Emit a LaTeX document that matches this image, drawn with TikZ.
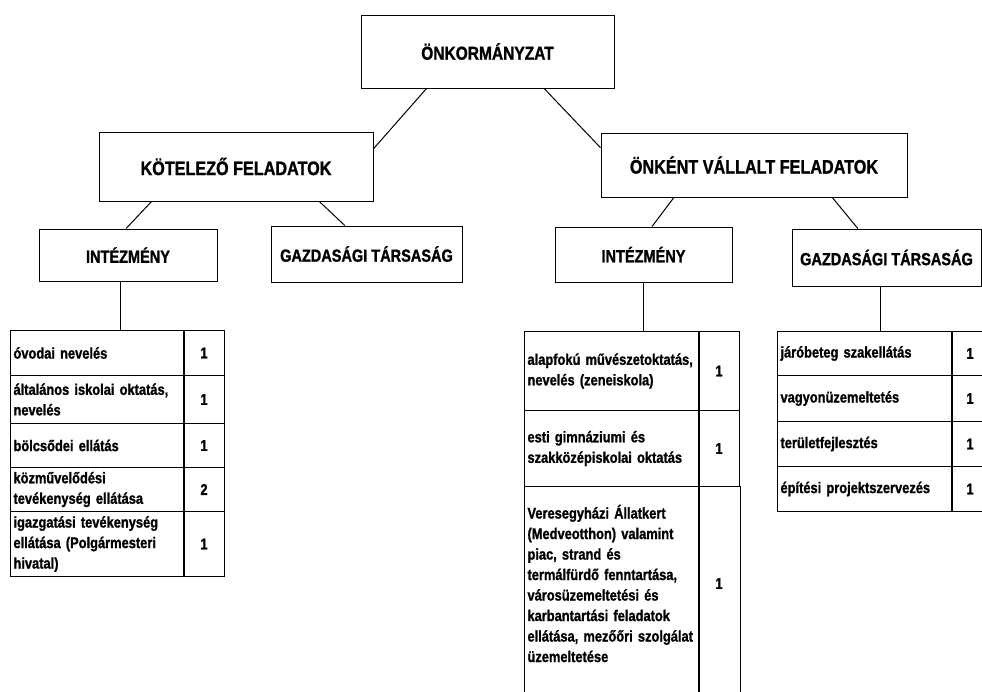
\documentclass[tikz,border=0pt]{standalone}
\usepackage{fontspec}
\setmainfont{Liberation Sans}[FakeStretch=0.83, BoldFeatures={FakeStretch=0.83, FakeBold=1.2}]
\usetikzlibrary{calc}
\begin{document}
\begin{tikzpicture}[x=1pt,y=-1pt,
  hbox/.style={draw=black, line width=1pt, inner sep=0pt, font=\bfseries\fontsize{17.5}{20}\selectfont},
  bigfont/.style={font=\bfseries\fontsize{19.5}{22}\selectfont},
  link/.style={draw=black, line width=1pt},
  cell/.style={draw=black, line width=1pt, anchor=north west, inner xsep=3pt, inner ysep=0pt, align=left, font=\bfseries\fontsize{15.5}{20.5}\selectfont},
  num/.style={draw=black, line width=1pt, anchor=north west, inner sep=0pt, font=\bfseries\fontsize{15.5}{20.5}\selectfont},
  sep/.style={draw=black, line width=2pt}]
\useasboundingbox (0,0) rectangle (982,691);
\clip (0,0) rectangle (982,691);

% header boxes
\node[hbox, font=\bfseries\fontsize{18.7}{21}\selectfont, minimum width=253pt, minimum height=73pt] (top) at (487.5,51.5) {ÖNKORMÁNYZAT};
\node[hbox, bigfont, minimum width=274pt, minimum height=69pt] (kot) at (236,166.5) {KÖTELEZŐ FELADATOK};
\node[hbox, bigfont, minimum width=306pt, minimum height=64pt] (onk) at (754,165) {ÖNKÉNT VÁLLALT FELADATOK};
\node[hbox, minimum width=178pt, minimum height=52pt] (intL) at (128,255) {INTÉZMÉNY};
\node[hbox, minimum width=191pt, minimum height=56pt] (gazL) at (366.5,254) {GAZDASÁGI TÁRSASÁG};
\node[hbox, minimum width=177pt, minimum height=55pt] (intR) at (643.5,254.5) {INTÉZMÉNY};
\node[hbox, minimum width=189pt, minimum height=57pt] (gazR) at (886.5,257.5) {GAZDASÁGI TÁRSASÁG};

% table 1
\node[cell, text width=167pt, minimum height=45pt] (t1a) at (10,330) {óvodai nevelés};
\node[num, minimum width=41pt, minimum height=45pt] (t1an) at (183,330) {1};
\node[cell, text width=167pt, minimum height=48pt] (t1b) at (10,375) {általános iskolai oktatás,\\nevelés};
\node[num, minimum width=41pt, minimum height=48pt] (t1bn) at (183,375) {1};
\node[cell, text width=167pt, minimum height=44pt] (t1c) at (10,423) {bölcsődei ellátás};
\node[num, minimum width=41pt, minimum height=44pt] (t1cn) at (183,423) {1};
\node[cell, text width=167pt, minimum height=44pt] (t1d) at (10,467) {közművelődési\\tevékenység ellátása};
\node[num, minimum width=41pt, minimum height=44pt] (t1dn) at (183,467) {2};
\node[cell, text width=167pt, minimum height=65pt] (t1e) at (10,511) {igazgatási tevékenység\\ellátása (Polgármesteri\\hivatal)};
\node[num, minimum width=41pt, minimum height=65pt] (t1en) at (183,511) {1};
\draw[sep] (t1a.north east) -- (t1e.south east);

% table 2
\node[cell, text width=168pt, minimum height=79pt] (t2a) at (524,331) {alapfokú művészetoktatás,\\nevelés (zeneiskola)};
\node[num, minimum width=41pt, minimum height=79pt] (t2an) at (698,331) {1};
\node[cell, text width=168pt, minimum height=76pt] (t2b) at (524,410) {esti gimnáziumi és\\szakközépiskolai oktatás};
\node[num, minimum width=41pt, minimum height=76pt] (t2bn) at (698,410) {1};
\node[cell, draw=none, text width=168pt, minimum height=194pt] (t2c) at (524,486) {Veresegyházi Állatkert\\(Medveotthon) valamint\\piac, strand és\\termálfürdő fenntartása,\\városüzemeltetési és\\karbantartási feladatok\\ellátása, mezőőri szolgálat\\üzemeltetése};
\node[num, draw=none, minimum width=41pt, minimum height=194pt] (t2cn) at (698,486) {1};
\draw[link] (t2c.north west) -- ++(0,220);
\draw[link] (t2cn.north east) -- ++(0,220);
\draw[sep] (t2a.north east) -- ++(0,380);

% table 3
\node[cell, text width=168pt, minimum height=44pt] (t3a) at (777,331) {járóbeteg szakellátás};
\node[num, minimum width=37pt, minimum height=44pt] (t3an) at (951,331) {1};
\node[cell, text width=168pt, minimum height=46pt] (t3b) at (777,375) {vagyonüzemeltetés};
\node[num, minimum width=37pt, minimum height=46pt] (t3bn) at (951,375) {1};
\node[cell, text width=168pt, minimum height=45pt] (t3c) at (777,421) {területfejlesztés};
\node[num, minimum width=37pt, minimum height=45pt] (t3cn) at (951,421) {1};
\node[cell, text width=168pt, minimum height=45pt] (t3d) at (777,466) {építési projektszervezés};
\node[num, minimum width=37pt, minimum height=45pt] (t3dn) at (951,466) {1};
\draw[sep] (t3a.north east) -- (t3d.south east);

% connectors
\draw[link] ($(top.south west)!0.26!(top.south east)$) -- ($(kot.north east)!0.246!(kot.south east)$);
\draw[link] ($(top.south west)!0.723!(top.south east)$) -- ($(onk.north west)!0.234!(onk.south west)$);
\draw[link] ($(kot.south west)!0.193!(kot.south east)$) -- ($(intL.north west)!0.489!(intL.north east)$);
\draw[link] ($(kot.south west)!0.803!(kot.south east)$) -- ($(gazL.north west)!0.387!(gazL.north east)$);
\draw[link] ($(onk.south west)!0.239!(onk.south east)$) -- ($(intR.north west)!0.548!(intR.north east)$);
\draw[link] ($(onk.south west)!0.755!(onk.south east)$) -- ($(gazR.north west)!0.349!(gazR.north east)$);
\coordinate (vL) at ($(intL.south west)!0.46!(intL.south east)$);
\draw[link] (vL) -- (vL |- t1a.north);
\draw[link] (intR.south) -- (intR.south |- t2a.north);
\coordinate (vR) at ($(gazR.south west)!0.47!(gazR.south east)$);
\draw[link] (vR) -- (vR |- t3a.north);
\end{tikzpicture}
\end{document}
